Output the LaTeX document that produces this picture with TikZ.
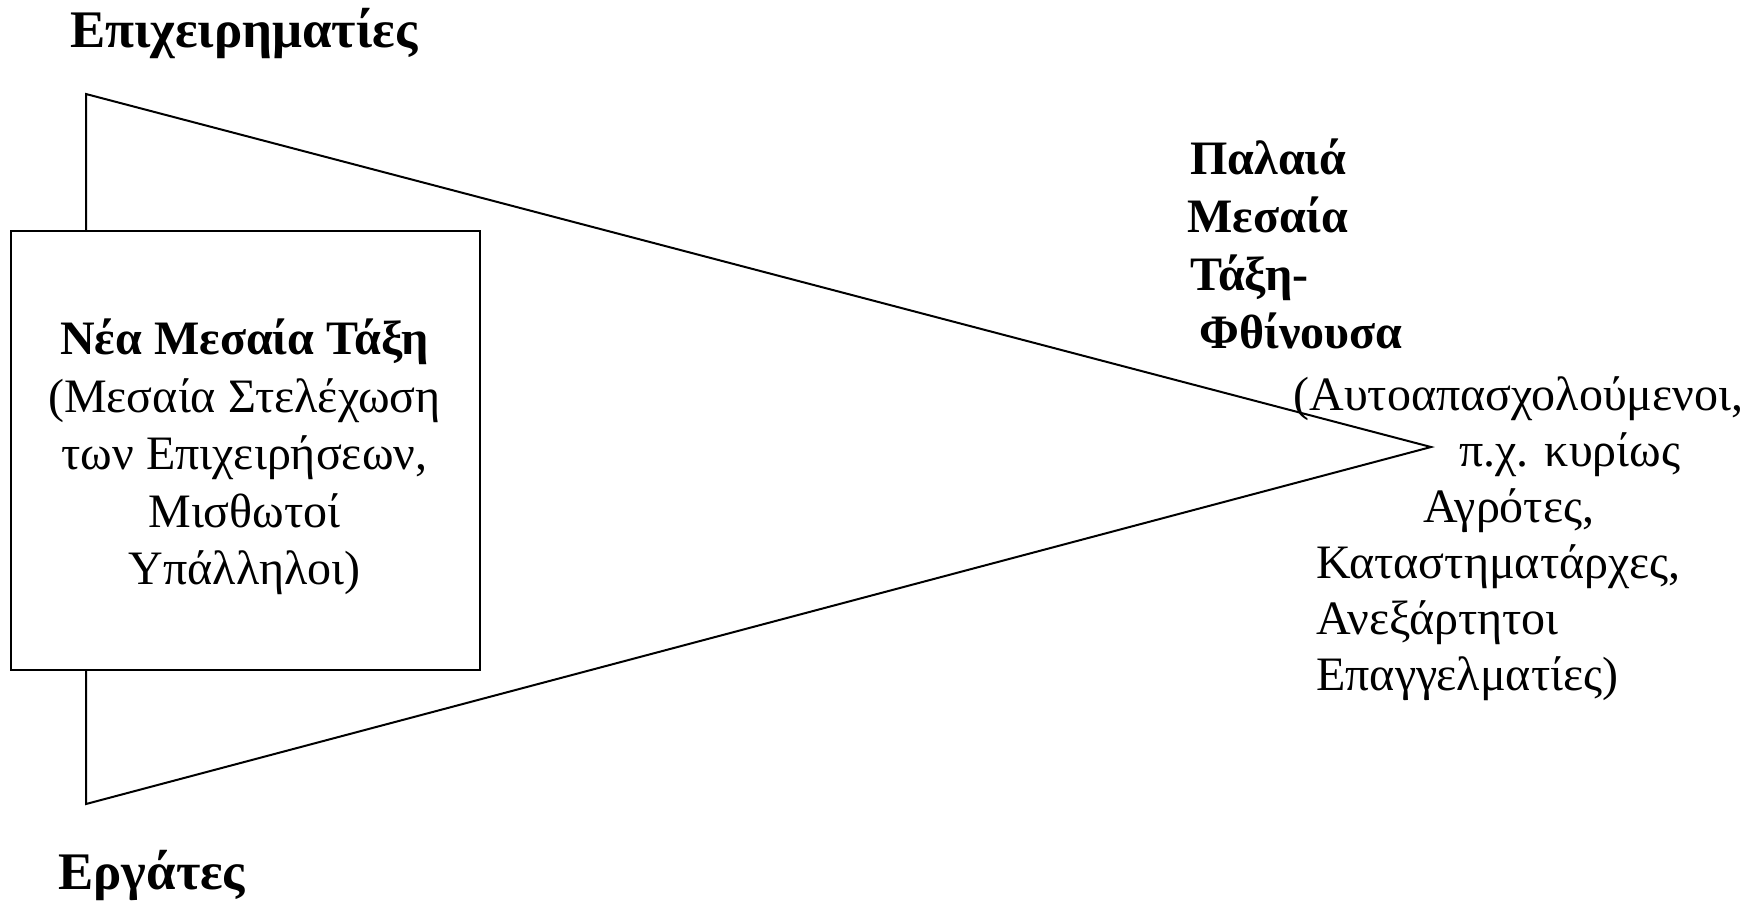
\documentclass[tikz,border=0pt]{standalone}
\usepackage{fontspec}
\setmainfont{Liberation Serif}
\begin{document}
\begin{tikzpicture}[x=0.5pt,y=-0.5pt,
  txt/.style={inner sep=0pt,anchor=base west,font=\fontsize{24pt}{28.5pt}\selectfont},
  btxt/.style={txt,font=\fontsize{24pt}{28.5pt}\selectfont\bfseries},
  ttxt/.style={txt,font=\fontsize{26.4pt}{28.5pt}\selectfont\bfseries},
  ctxt/.style={txt,anchor=base},
  edge/.style={line width=1pt,line join=miter}]
\useasboundingbox (0,0) rectangle (1760,902);
% triangle
\coordinate (tl) at (86,94);
\coordinate (tip) at (1431,447);
\coordinate (bl) at (86,804);
\draw[edge] (tl) -- (tip) -- (bl) -- cycle;
% box
\node[draw,line width=1pt,fill=white,inner sep=0pt,anchor=north west,
  minimum width=234.5pt,minimum height=219.5pt] (box) at (10,230) {};
\node[ctxt,font=\fontsize{24pt}{28.5pt}\selectfont\bfseries] (b1) at (244.5,354) {Νέα Μεσαία Τάξη};
\node[ctxt] (b2) at (244.5,412) {(Μεσαία Στελέχωση};
\node[ctxt] (b3) at (244.5,469) {των Επιχειρήσεων,};
\node[ctxt] (b4) at (244.5,527) {Μισθωτοί};
\node[ctxt] (b5) at (244.5,584) {Υπάλληλοι)};
% titles
\node[ttxt] (top) at (70,47) {Επιχειρηματίες};
\node[ttxt] (bot) at (58,889) {Εργάτες};
% right bold
\node[btxt] (r1) at (1190,174) {Παλαιά};
\node[btxt] (r2) at (1187,232) {Μεσαία};
\node[btxt] (r3) at (1190,290) {Τάξη-};
\node[btxt] (r4) at (1199,348) {Φθίνουσα};
% right plain
\node[txt] (p1) at (1293,410) {(Αυτοαπασχολούμενοι,};
\node[txt] (p2) at (1459,466) {π.χ. κυρίως};
\node[txt] (p3) at (1423,522) {Αγρότες,};
\node[txt] (p4) at (1316,578) {Καταστηματάρχες,};
\node[txt] (p5) at (1316,634) {Ανεξάρτητοι};
\node[txt] (p6) at (1316,690) {Επαγγελματίες)};
\end{tikzpicture}
\end{document}
